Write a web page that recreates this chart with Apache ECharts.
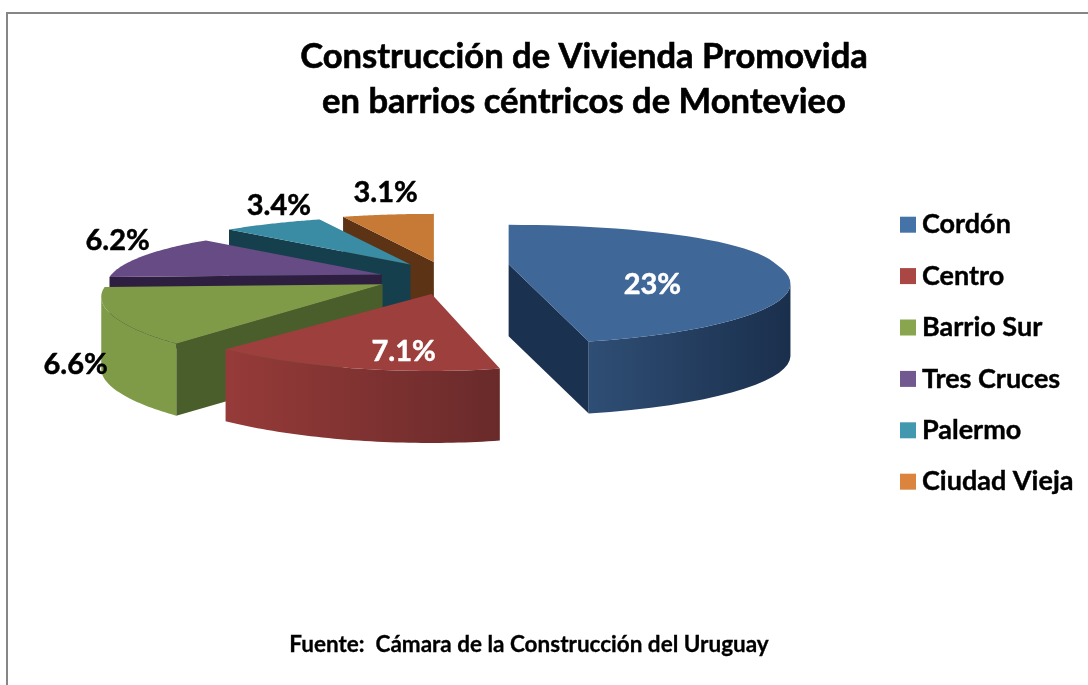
<!DOCTYPE html>
<html><head><meta charset="utf-8">
<script src="https://cdn.jsdelivr.net/npm/echarts@6/dist/echarts.min.js"></script>
<style>html,body{margin:0;padding:0;background:#fff}#c{width:1088px;height:685px}</style>
</head><body><div id="c"></div>
<script>
const categories = ['Cordón','Centro','Barrio Sur','Tres Cruces','Palermo','Ciudad Vieja'];
const values = [23, 7.1, 6.6, 6.2, 3.4, 3.1];
const legendColors = ['#4572A7','#AA4643','#89A54E','#71588F','#4198AF','#DB843D'];
const topColors = ['#3F6797','#9C3F3D','#7F9B47','#664B84','#3A8BA4','#C77A35'];
const cutColors = ['#1B3150','#5E2525','#4A5E2B','#2E1F40','#163F4D','#5C3314'];
const arcColors = [['#2F4E75','#1A2F4C'],['#963B39','#692A2A'],['#7F9B47','#7F9B47'],['#2E1F40','#2E1F40'],['#163F4D','#163F4D'],['#5C3314','#5C3314']];
const drawOrder = [7,6,5,4,3,2];
const labelColors = ['#fff','#fff','#000','#000','#000','#000'];

// Projection of the tilted pie
const RX = 280, RY = 61.4, PX = 0.2, PY = 0.278, DEPTH = 72;
const CX = 446, CY = 278, EX = 62, EY = 16.4;
const nudge = [[1,-12],[0,0],[-8,-1],[-6,2],[0,0],[0,0]];
const sliceScale = [0.955,0.93,0.985,0.965,1,1];
const farScale = [0.85,1,1,1,1,1];
const leftStretch = [1,1.068,1,1,1,1];
const nearStretch = [0.145,0,0,0,0,0];
const labelRadius = [0.5,0.7,1.15,1.1,1.1,1.2];
const labelNudge = [[7,25],[25,6],[6,42],[-1,-11],[18,-15],[5,-15]];

const total = values.reduce((a,b)=>a+b,0);
const spans = []; { let a = 0; values.forEach(v=>{const d=v/total*360; spans.push([a,a+d]); a+=d;}); }
const rad = d => d*Math.PI/180;
function proj(r, deg){
  const x = r*Math.sin(rad(deg)), y = -r*Math.cos(rad(deg));
  return [RX*x/(1-PX*y), RY*y/(1-PY*y), y];
}
function renderSlice(params, api){
  const i = params.seriesIndex;
  const [a0,a1] = spans[i], mid=(a0+a1)/2;
  const baseX = CX + EX*Math.sin(rad(mid)), baseY = CY - EY*Math.cos(rad(mid));
  const ax = baseX + nudge[i][0];
  const ay = baseY + nudge[i][1];
  const rim = [];
  const N = 48;
  for(let k=0;k<=N;k++){
    const deg = a0+(a1-a0)*k/N;
    const p = proj(sliceScale[i], deg);
    let dx = p[0]; if(dx<0) dx*=leftStretch[i];
    if(p[2]>0) dx*=1+nearStretch[i]*p[2];
    rim.push([ax+dx, ay+p[1]*(p[2]<0?farScale[i]:1), p[2], Math.sin(rad(deg))]);
  }
  const apex=[ax,ay];
  const down = p=>[p[0],p[1]+DEPTH];
  const kids=[];
  const cut = (p)=>({type:'polygon',shape:{points:[apex,[p[0],p[1]],down(p),down(apex)]},style:{fill:cutColors[i]}});
  if(Math.sin(rad(a1))>0) kids.push(cut(rim[N]));
  if(Math.sin(rad(a0))<=0) kids.push(cut(rim[0]));
  // the outer wall runs from the silhouette extremes of the rim along its near side
  let iMin=0, iMax=0;
  rim.forEach((p,k)=>{ if(p[0]<rim[iMin][0]) iMin=k; if(p[0]>rim[iMax][0]) iMax=k; });
  const lo = rim[iMax][3]>0 ? iMax : 0;
  const hi = rim[iMin][3]<0 ? iMin : N;
  const front = rim.slice(lo,hi+1).filter(p=>p[2]>-0.02);
  if(front.length>1){
    const xs=front.map(p=>p[0]);
    const x0=Math.min(...xs), x1=Math.max(...xs);
    kids.push({type:'polygon',
      shape:{points:front.map(p=>[p[0],p[1]]).concat(front.slice().reverse().map(down))},
      style:{fill:{type:'linear',x:x0,y:0,x2:x1,y2:0,global:true,
        colorStops:[{offset:0,color:arcColors[i][0]},{offset:1,color:arcColors[i][1]}]}}});
  }
  kids.push({type:'polygon',shape:{points:[apex].concat(rim.map(p=>[p[0],p[1]]))},style:{fill:topColors[i]}});
  const lp = proj(labelRadius[i], mid);
  kids.push({type:'text',z2:50,style:{
    text: api.value(0)+'%',
    x: baseX+lp[0]+labelNudge[i][0], y: baseY+lp[1]+labelNudge[i][1]+(i===0?-13:0),
    fill: labelColors[i], stroke: labelColors[i], lineWidth:0.5, align:'center', verticalAlign:'middle',
    font:'bold 29px Lato'}});
  return {type:'group',children:kids};
}
const chart = echarts.init(document.getElementById('c'), null, {renderer:'canvas'});
chart.setOption({
  animation:false,
  backgroundColor:'#fff',
  title:[
    {text:'Construcción de Vivienda Promovida\nen barrios céntricos de Montevieo',left:579,top:29,textAlign:'center',
      textStyle:{fontFamily:'Lato',fontWeight:'bold',fontSize:34.6,lineHeight:45,color:'#000',textBorderColor:'#000',textBorderWidth:0.6}},
    {text:'Fuente:  Cámara de la Construcción del Uruguay',left:524,top:628,textAlign:'center',
      textStyle:{fontFamily:'Lato',fontWeight:'bold',fontSize:22.5,color:'#000',textBorderColor:'#000',textBorderWidth:0.3}}
  ],
  legend:{orient:'vertical',left:895,top:206,itemWidth:16,itemHeight:16,itemGap:24,icon:'rect',
    data:categories,selectedMode:false,
    textStyle:{fontFamily:'Lato',fontWeight:'bold',fontSize:27,color:'#000',textBorderColor:'#000',textBorderWidth:0.4,padding:[0,0,0,1]}},
  graphic:[{type:'polyline',silent:true,shape:{points:[[7,685],[7,13],[1088,13]]},style:{stroke:'#868686',lineWidth:2,fill:'none'}}],
  series: categories.map((name,i)=>({
    type:'custom',name,coordinateSystem:'none',silent:true,z:drawOrder[i],
    itemStyle:{color:legendColors[i]},
    data:[[values[i]]],
    renderItem:renderSlice
  }))
});
</script></body></html>
